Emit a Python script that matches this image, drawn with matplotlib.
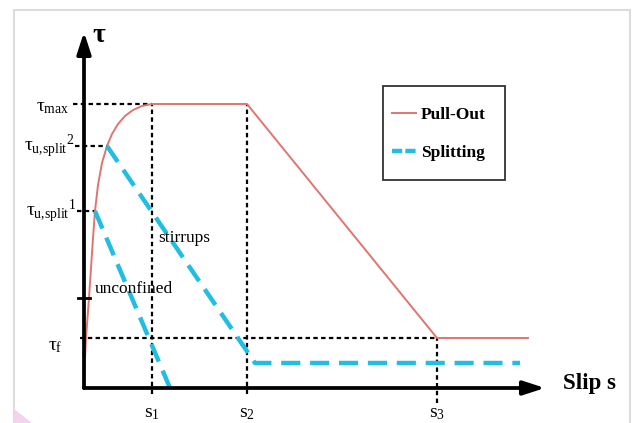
import matplotlib
matplotlib.use("Agg")
import matplotlib.pyplot as plt
from matplotlib.patches import Rectangle, Polygon
from matplotlib.lines import Line2D
from matplotlib.legend_handler import HandlerLine2D

plt.rcParams['font.family'] = ['Liberation Serif', 'DejaVu Serif']
plt.rcParams['mathtext.fontset'] = 'custom'
plt.rcParams['mathtext.rm'] = 'Liberation Serif'
plt.rcParams['mathtext.it'] = 'Liberation Serif:italic'
plt.rcParams['mathtext.bf'] = 'Liberation Serif:bold'

# ---------------- data (arbitrary units) ----------------
slip_keys = [6.8, 16.3, 35.3]          # s1, s2, s3
slip_labels = [r'$\mathrm{s_1}$', r'$\mathrm{s_2}$', r'$\mathrm{s_3}$']
tau_max = 28.4
tau_split = [17.7, 24.2]               # tau_u,split^1, tau_u,split^2
tau_f = 5.0
tau_tick = 9.0
s_end = 44.4

pull_asc_s = [0.0, 0.1, 0.2, 0.35, 0.5, 0.7, 0.9, 1.1, 1.4, 1.8, 2.3, 2.8, 3.4, 4.1, 4.9, 5.8, 6.8]
pull_asc_t = [0.0, 3.0, 5.0, 7.0, 9.0, 12.0, 15.0, 17.7, 20.3, 22.5, 24.2, 25.4, 26.4, 27.2, 27.8, 28.2, 28.4]
pull_s = pull_asc_s + [16.3, 35.3, 44.4]
pull_t = pull_asc_t + [28.4, 5.0, 5.0]

split1_s = [1.1, 8.6]
split1_t = [17.7, 0.0]
split2_s = [2.3, 17.1, 43.6]
split2_t = [24.2, 2.5, 2.5]

# ---------------- figure ----------------
W, H = 633, 423
fig = plt.figure(figsize=(W / 100, H / 100), dpi=100)
ax = fig.add_axes([0, 0, 1, 1])
ax.set_xlim(-8.4, 54.9)
ax.set_ylim(-3.5, 38.8)
ax.axis('off')

# outer light frame
fig.patches.append(Rectangle((14 / W, -0.05), 616 / W, (H - 10) / H + 0.05,
                             transform=fig.transFigure, fill=False,
                             edgecolor='#dcdcdc', lw=1.5))
fig.patches.append(Polygon([(14 / W, 0), (14 / W, 14 / H), (32 / W, 0)],
                           closed=True, transform=fig.transFigure,
                           facecolor='#f3d3ee', edgecolor='none'))

dot = dict(color='black', lw=1.6, linestyle=(0, (2.0, 1.5)), zorder=2)

# helper dotted guide lines
ax.plot([-1.1, slip_keys[0]], [tau_max, tau_max], **dot)
ax.plot([-0.9, split2_s[0]], [tau_split[1], tau_split[1]], **dot)
ax.plot([-0.7, split1_s[0]], [tau_split[0], tau_split[0]], **dot)
ax.plot([-0.4, slip_keys[2]], [tau_f, tau_f], **dot)
ax.plot([slip_keys[0], slip_keys[0]], [-0.6, tau_max], **dot)
ax.plot([slip_keys[1], slip_keys[1]], [-0.6, tau_max], **dot)
ax.plot([slip_keys[2], slip_keys[2]], [-1.5, tau_f], **dot)
# tick on y axis
ax.plot([-0.6, 0.6], [tau_tick, tau_tick], color='black', lw=2, zorder=4)

# curves
ax.plot(pull_s, pull_t, color='#de7670', lw=1.4, zorder=3)
dash_style = dict(color='#22bde3', lw=3.2, linestyle=(0, (4.3, 2.2)),
                  dash_capstyle='butt', zorder=3)
ax.plot(split1_s, split1_t, **dash_style)
ax.plot(split2_s, split2_t, **dash_style)

# axes arrows
arr = dict(arrowstyle='-|>,head_length=1.3,head_width=0.42', color='black',
           lw=2.7, shrinkA=0, shrinkB=0)
ax.annotate('', xy=(0, 35.6), xytext=(0, 0), arrowprops=arr, zorder=5)
ax.annotate('', xy=(46.1, 0), xytext=(0, 0), arrowprops=arr, zorder=5)

# axis labels
ax.text(0.8, 35.2, r'$\mathbf{\tau}$', fontsize=20, ha='left', va='center')
ax.text(47.9, 0.5, 'Slip s', fontsize=16.5, fontweight='bold', ha='left', va='center')

# y labels
ax.text(-1.5, tau_max - 0.3, r'$\mathrm{\tau_{max}}$', fontsize=14, ha='right', va='center')
ax.text(-1.0, tau_split[1], r'${\mathrm{\tau_{u{,}split}}}^{\mathrm{2}}$', fontsize=14,
        ha='right', va='center')
ax.text(-0.8, tau_split[0], r'${\mathrm{\tau_{u{,}split}}}^{\mathrm{1}}$', fontsize=14,
        ha='right', va='center')
ax.text(-2.1, tau_f - 0.8, r'$\mathrm{\tau_f}$', fontsize=14, ha='right', va='center')

# slip labels
for s, lab in zip(slip_keys, slip_labels):
    ax.text(s, -2.5, lab, fontsize=14, ha='center', va='center')

# annotations
ax.text(7.4, 15.0, 'stirrups', fontsize=12.5, ha='left', va='center')
ax.text(1.1, 9.9, 'unconfined', fontsize=12.5, ha='left', va='center')


class CenteredLineHandler(HandlerLine2D):
    def create_artists(self, legend, orig_handle, xdescent, ydescent,
                       width, height, fontsize, trans):
        return super().create_artists(legend, orig_handle, xdescent,
                                      height - 0.7 * fontsize, width, height,
                                      fontsize, trans)


# legend
handles = [Line2D([], [], color='#de7670', lw=1.4),
           Line2D([], [], color='#22bde3', lw=3.2, linestyle=(0, (2.3, 0.7)))]
leg = fig.legend(handles, ['Pull-Out', 'Splitting'], loc='upper left',
                 bbox_to_anchor=(383 / W, 1 - 180 / H, 122 / W, 94 / H),
                 mode='expand', borderaxespad=0,
                 handler_map={Line2D: CenteredLineHandler()},
                 prop={'family': 'Liberation Serif', 'weight': 'bold', 'size': 12.5},
                 handlelength=1.4, handleheight=3.0, handletextpad=0.3,
                 labelspacing=0.0, borderpad=0.5, fancybox=False, framealpha=1)
leg.get_frame().set_edgecolor('#333333')
leg.get_frame().set_linewidth(1.3)

fig.savefig('out.png', dpi=100)
